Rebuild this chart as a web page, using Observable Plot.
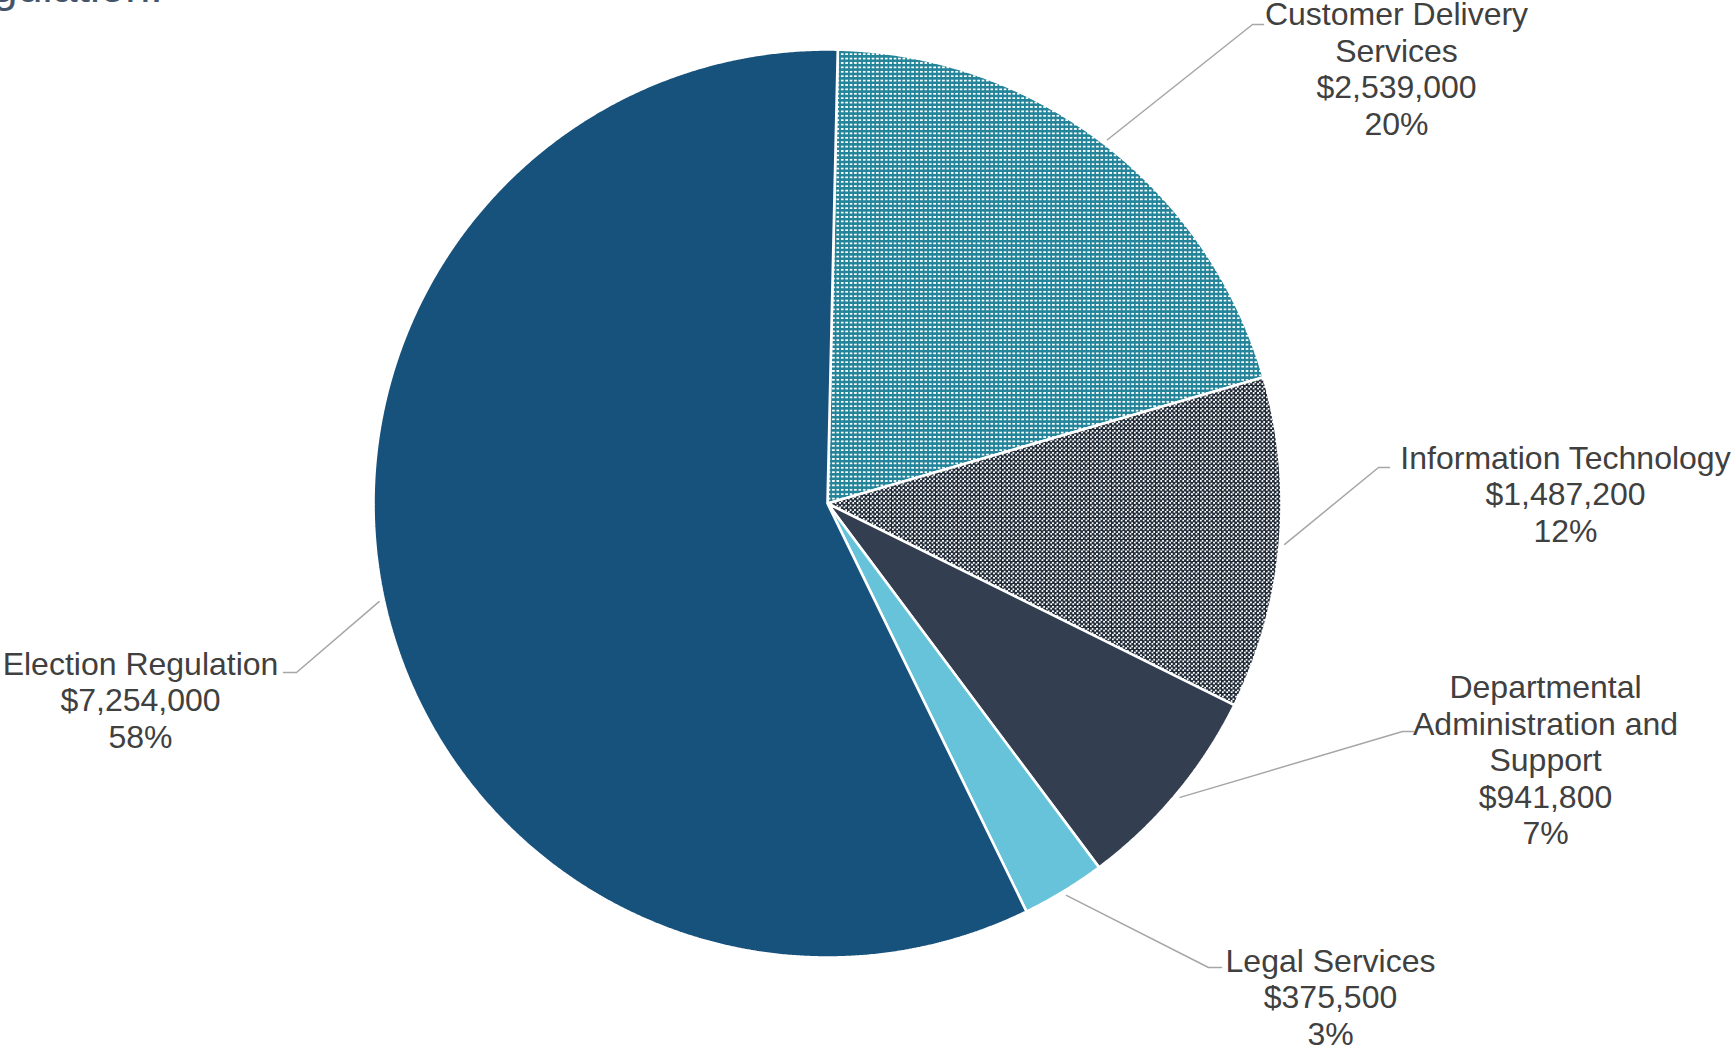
<!DOCTYPE html>
<html>
<head>
<meta charset="utf-8">
<script src="https://cdn.jsdelivr.net/npm/d3@7"></script>
<script src="https://cdn.jsdelivr.net/npm/@observablehq/plot@0.6"></script>
<style>
  html, body { margin: 0; padding: 0; background: #fff; }
  #wrap { position: relative; width: 1733px; height: 1047px; overflow: hidden; }
  #title { position: absolute; left: -65px; top: -35px; font: 45px "Liberation Sans", Arial, sans-serif; line-height: 44px; color: #44546A; white-space: nowrap; }
</style>
</head>
<body>
<div id="wrap">
  <div id="title">Regulation.</div>
  <div id="chart"></div>
</div>
<script>
// ---- data ----
const categories = ["Customer Delivery Services", "Information Technology", "Departmental Administration and Support", "Legal Services", "Election Regulation"];
const labelLines = ["Customer Delivery\nServices", "Information Technology", "Departmental\nAdministration and\nSupport", "Legal Services", "Election Regulation"];
const values = [2539000, 1487200, 941800, 375500, 7254000];

// ---- styles / layout ----
const fills = ["url(#pCDS)", "url(#pIT)", "#333F50", "#67C3DA", "#17527D"];
const W = 1733, H = 1047;
const cx = 827, cy = 503, R = 454;
const startDeg = 1.3;
// label block centres and leader elbows (pixel layout)
const labelPos = [
  {tx: 1396, ty: 68,  ex: 1252, ey: 24,  hx: 1263},
  {tx: 1565, ty: 493, ex: 1378, ey: 467, hx: 1389},
  {tx: 1545, ty: 759, ex: 1402, ey: 731, hx: 1413},
  {tx: 1330, ty: 996, ex: 1208, ey: 967, hx: 1221},
  {tx: 140,  ty: 699, ex: 296,  ey: 672, hx: 283}
];

const total = d3.sum(values);
const fmtMoney = d3.format("$,");
const fmtPct = d3.format(".0%");
const a0 = startDeg * Math.PI / 180;
const arcs = d3.pie().sort(null).startAngle(a0).endAngle(a0 + 2 * Math.PI)(values);

const px = (a, r) => cx + r * Math.sin(a);
const py = (a, r) => cy - r * Math.cos(a);

const sliceMarks = arcs.map((arc, i) => {
  const pts = [{x: cx, y: cy}];
  const n = Math.max(8, Math.ceil((arc.endAngle - arc.startAngle) / (Math.PI / 720)));
  for (let k = 0; k <= n; k++) {
    const a = arc.startAngle + (arc.endAngle - arc.startAngle) * k / n;
    pts.push({x: px(a, R), y: py(a, R)});
  }
  pts.push({x: cx, y: cy});
  return Plot.line(pts, {x: "x", y: "y", fill: fills[i], stroke: "white", strokeWidth: 2.6, strokeLinejoin: "miter", curve: "linear"});
});

const leaders = [];
arcs.forEach((arc, i) => {
  const m = (arc.startAngle + arc.endAngle) / 2;
  const L = labelPos[i];
  leaders.push({k: i, x: px(m, R + 5), y: py(m, R + 5)});
  leaders.push({k: i, x: L.ex, y: L.ey});
  leaders.push({k: i, x: L.hx, y: L.ey});
});

const labels = arcs.map((arc, i) => ({
  x: labelPos[i].tx,
  y: labelPos[i].ty,
  text: labelLines[i] + "\n" + fmtMoney(values[i]) + "\n" + fmtPct(values[i] / total)
}));

const plot = Plot.plot({
  width: W,
  height: H,
  margin: 0,
  x: {domain: [0, W], range: [0, W], axis: null},
  y: {domain: [0, H], range: [0, H], axis: null},
  style: {background: "transparent", overflow: "visible"},
  marks: [
    ...sliceMarks,
    Plot.line(leaders, {x: "x", y: "y", z: "k", stroke: "#A6A6A6", strokeWidth: 1.5, curve: "linear"}),
    Plot.text(labels, {x: "x", y: "y", text: "text", fontSize: 32, lineHeight: 1.14, fill: "#404040",
      fontFamily: "'Liberation Sans', Arial, sans-serif", textAnchor: "middle", lineAnchor: "middle"})
  ]
});

// patterns
const ns = "http://www.w3.org/2000/svg";
const defs = document.createElementNS(ns, "defs");
defs.innerHTML = `
  <pattern id="pCDS" width="4.4" height="4.4" patternUnits="userSpaceOnUse">
    <rect width="4.4" height="4.4" fill="#23849A"/>
    <rect x="0.3" y="0.3" width="1.9" height="1.8" fill="#ffffff" shape-rendering="crispEdges"/>
  </pattern>
  <pattern id="pIT" width="4.4" height="4.4" patternUnits="userSpaceOnUse">
    <rect width="4.4" height="4.4" fill="#232C39"/>
    <rect x="2.3" y="0.2" width="1.9" height="1.9" fill="#ffffff" shape-rendering="crispEdges"/>
    <rect x="0.1" y="2.4" width="1.9" height="1.9" fill="#ffffff" shape-rendering="crispEdges"/>
  </pattern>`;
plot.insertBefore(defs, plot.firstChild);
document.getElementById("chart").appendChild(plot);
</script>
</body>
</html>
